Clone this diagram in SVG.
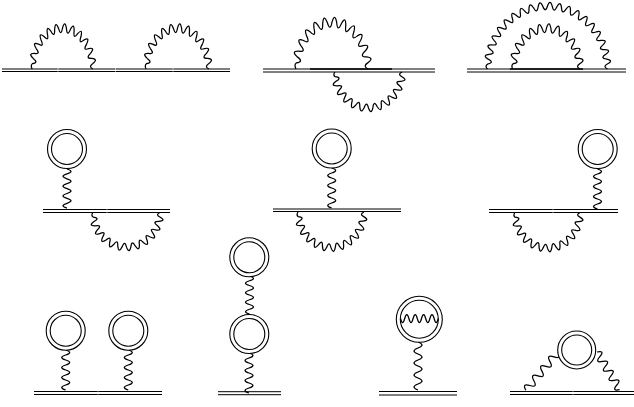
<svg xmlns="http://www.w3.org/2000/svg" xmlns:xlink="http://www.w3.org/1999/xlink" width="634" height="407" viewBox="0 0 634 407">
<style>
.w{fill:none;stroke:#000;stroke-width:1.25;vector-effect:non-scaling-stroke}
.l{fill:none;stroke:#000;stroke-width:1}
.d{fill:none;stroke:#000;stroke-width:1.3}
.c{fill:#fff;stroke:#000;stroke-width:1.1}
</style>
<defs>
<path id="arc" class="w" d="M-33 0Q-35 -2.8 -32.72 -4.31Q-25.5 -5.07 -31.87 -8.54Q-37.88 -12.86 -30.49 -12.63Q-23.32 -11.5 -28.58 -16.5Q-33.26 -22.22 -26.18 -20.09Q-19.55 -17.14 -23.33 -23.33Q-26.37 -30.07 -20.09 -26.18Q-14.45 -21.62 -16.5 -28.58Q-17.69 -35.88 -12.63 -30.49Q-8.36 -24.62 -8.54 -31.87Q-7.8 -39.23 -4.31 -32.72Q-1.7 -25.95 0 -33Q2.62 -39.92 4.31 -32.72Q5.07 -25.5 8.54 -31.87Q12.86 -37.88 12.63 -30.49Q11.5 -23.32 16.5 -28.58Q22.22 -33.26 20.09 -26.18Q17.14 -19.55 23.33 -23.33Q30.07 -26.37 26.18 -20.09Q21.62 -14.45 28.58 -16.5Q35.88 -17.69 30.49 -12.63Q24.62 -8.36 31.87 -8.54Q39.23 -7.8 32.72 -4.31Q28 -2 33 0"/>
<path id="big" class="w" d="M-60 0Q-63 -2.6 -59.81 -4.71Q-52.63 -6.23 -59.26 -9.38Q-65.71 -13.07 -58.34 -14Q-51.01 -14.38 -57.07 -18.54Q-62.86 -23.19 -55.43 -22.96Q-48.13 -22.19 -53.46 -27.24Q-58.46 -32.74 -51.16 -31.35Q-44.07 -29.45 -48.54 -35.27Q-52.62 -41.48 -45.62 -38.96Q-38.92 -35.98 -42.43 -42.43Q-45.48 -49.2 -38.96 -45.62Q-32.81 -41.62 -35.27 -48.54Q-37.23 -55.71 -31.35 -51.16Q-25.9 -46.24 -27.24 -53.46Q-28.05 -60.84 -22.96 -55.43Q-18.34 -49.72 -18.54 -57.07Q-18.18 -64.49 -14 -58.34Q-10.34 -51.98 -9.38 -59.26Q-7.87 -66.54 -4.71 -59.81Q-2.08 -52.96 0 -60Q2.63 -66.95 4.71 -59.81Q6.23 -52.63 9.38 -59.26Q13.07 -65.71 14 -58.34Q14.38 -51.01 18.54 -57.07Q23.19 -62.86 22.96 -55.43Q22.19 -48.13 27.24 -53.46Q32.74 -58.46 31.35 -51.16Q29.45 -44.07 35.27 -48.54Q41.48 -52.62 38.96 -45.62Q35.98 -38.92 42.43 -42.43Q49.2 -45.48 45.62 -38.96Q41.62 -32.81 48.54 -35.27Q55.71 -37.23 51.16 -31.35Q46.24 -25.9 53.46 -27.24Q60.84 -28.05 55.43 -22.96Q49.72 -18.34 57.07 -18.54Q64.49 -18.18 58.34 -14Q51.98 -10.34 59.26 -9.38Q66.54 -7.87 59.81 -4.71Q55 -2.4 60 0"/>
<path id="wig" class="w" d="M0 0q8 2.5 0 5q-8 2.5 0 5q8 2.5 0 5q-8 2.5 0 5q8 2.5 0 5q-8 2.5 0 5q8 2.5 0 5q-8 2.5 0 5"/>
</defs>
<g id="connectors">
<path class="l" d="M2 69H57.75M58.25 69H115.25M115.75 69H172.75M173.25 69H230M2 71.5H57.75M58.25 71.5H115.25M115.75 71.5H172.75M173.25 71.5H230"/>
<use xlink:href="#arc" href="#arc" transform="translate(62.5 69) scale(.92 1.24)"/>
<use xlink:href="#arc" href="#arc" transform="translate(177.5 69) scale(.95 1.24)"/>
<path class="l" d="M263 69H435M263 72H435"/>
<path class="d" d="M310 69H392"/>
<use xlink:href="#arc" href="#arc" transform="translate(332 69) scale(1.09 1.42)"/>
<use xlink:href="#arc" href="#arc" transform="translate(368.5 72) scale(1.02 -1.09)"/>
<path class="l" d="M467 69H626M467 72H626"/>
<path class="d" d="M510 69H583"/>
<use xlink:href="#big" href="#big" transform="translate(547.5 69) scale(1 1.05)"/>
<use xlink:href="#arc" href="#arc" transform="translate(546.5 69) scale(1.02 1.24)"/>
<path class="l" d="M43 209.5H106.75M107.25 209.5H170M43 212.5H106.75M107.25 212.5H170"/>
<use xlink:href="#wig" href="#wig" transform="translate(67 169) scale(1 .98)"/>
<use xlink:href="#arc" href="#arc" transform="translate(126.5 212.5) scale(1.02 -1.05)"/>
<path class="l" d="M273 209H401M273 211.5H401"/>
<use xlink:href="#wig" href="#wig" transform="translate(331.7 168)"/>
<use xlink:href="#arc" href="#arc" transform="translate(331 212) scale(1 -1.08)"/>
<path class="l" d="M489 209.5H552.75M553.25 209.5H618M489 212.5H552.75M553.25 212.5H618"/>
<use xlink:href="#wig" href="#wig" transform="translate(597.5 169)"/>
<use xlink:href="#arc" href="#arc" transform="translate(547.5 212.5) scale(.99 -1.08)"/>
<path class="l" d="M34 391.5H97.75M98.25 391.5H162M34 394.5H97.75M98.25 394.5H162"/>
<use xlink:href="#wig" href="#wig" transform="translate(65.7 350)"/>
<use xlink:href="#wig" href="#wig" transform="translate(128.3 350)"/>
<path class="l" d="M218 391.7H281M218 394.7H281"/>
<use xlink:href="#wig" href="#wig" transform="translate(249.5 276) scale(1 .95)"/>
<use xlink:href="#wig" href="#wig" transform="translate(249 353)"/>
<path class="l" d="M379 391.5H457M379 395H457"/>
<use xlink:href="#wig" href="#wig" transform="translate(418 342) scale(1 1.2)"/>
<path class="l" d="M510 391.5H572.75M573.25 391.5H634M510 394.5H572.75M573.25 394.5H634"/>
<use xlink:href="#wig" href="#wig" transform="translate(558 352) rotate(40) scale(1 1.25)"/>
<use xlink:href="#wig" href="#wig" transform="translate(597 352) rotate(-31) scale(1 1.1)"/>
</g>
<g id="loop1"><circle class="c" cx="67" cy="149" r="19.5"/><circle class="c" cx="67" cy="149" r="15.5"/></g>
<g id="loop2"><circle class="c" cx="331.7" cy="148.5" r="19.5"/><circle class="c" cx="331.7" cy="148.5" r="15.5"/></g>
<g id="loop3"><circle class="c" cx="597.7" cy="149" r="19.5"/><circle class="c" cx="597.7" cy="149" r="15.5"/></g>
<g id="loop4"><circle class="c" cx="65.7" cy="330.7" r="19.5"/><circle class="c" cx="65.7" cy="330.7" r="15.5"/></g>
<g id="loop5"><circle class="c" cx="128.3" cy="330.7" r="19.5"/><circle class="c" cx="128.3" cy="330.7" r="15.5"/></g>
<g id="loop6"><circle class="c" cx="249.3" cy="257.3" r="19.5"/><circle class="c" cx="249.3" cy="257.3" r="15.5"/></g>
<g id="loop7"><circle class="c" cx="249.3" cy="334" r="19.5"/><circle class="c" cx="249.3" cy="334" r="15.5"/></g>
<g id="loop8"><circle class="c" cx="419.3" cy="319.3" r="23"/><circle class="c" cx="419.3" cy="319.3" r="19"/>
<path class="w" d="M400.5 318.5q2.1 8 4.2 0q2.1 -8 4.2 0q2.1 8 4.2 0q2.1 -8 4.2 0q2.1 8 4.2 0q2.1 -8 4.2 0q2.1 8 4.2 0q2.1 -8 4.2 0q2.1 8 4.2 0"/></g>
<g id="loop9"><circle class="c" cx="576.7" cy="350" r="19"/><circle class="c" cx="576.7" cy="350" r="15"/></g>
</svg>
